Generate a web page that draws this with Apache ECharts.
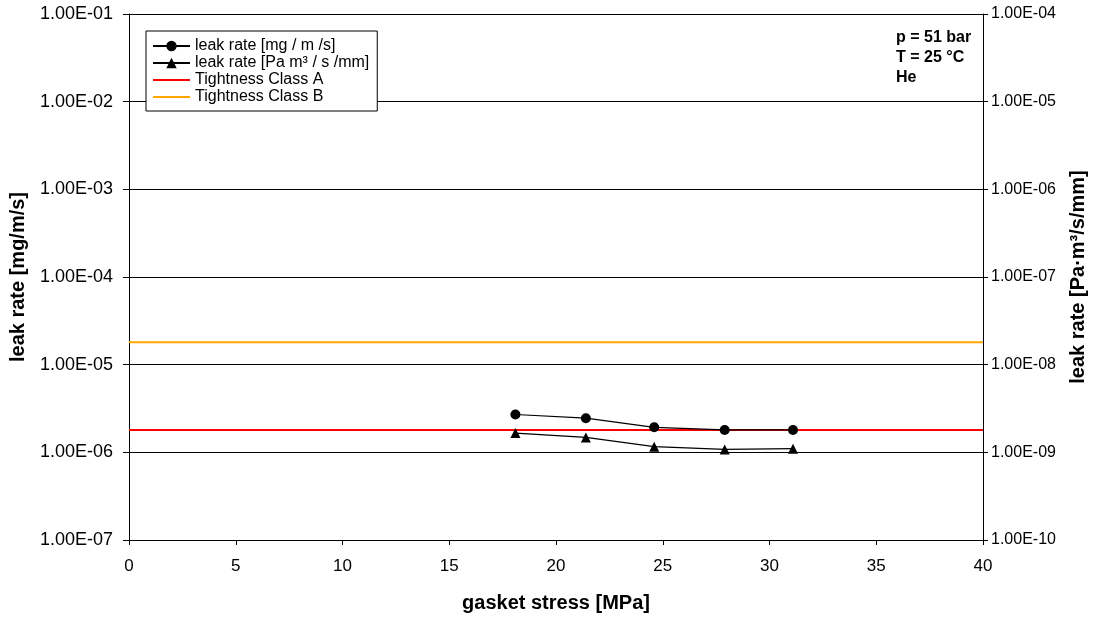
<!DOCTYPE html>
<html>
<head>
<meta charset="utf-8">
<script src="https://cdn.jsdelivr.net/npm/echarts@6/dist/echarts.min.js"></script>
<style>html,body{margin:0;padding:0;background:#fff}#c{width:1096px;height:618px}</style>
</head>
<body>
<div id="c"></div>
<script>
const stress = [18.1, 21.4, 24.6, 27.9, 31.1];
const leakMg = [2.7e-6, 2.45e-6, 1.93e-6, 1.8e-6, 1.8e-6];
const leakPa = [1.66e-9, 1.48e-9, 1.16e-9, 1.08e-9, 1.1e-9];
const classA = 1.8e-6;
const classB = 1.8e-5;
const xRange = [0, 40];
const seriesNames = ['leak rate [mg / m /s]', 'leak rate [Pa m³ / s /mm]', 'Tightness Class A', 'Tightness Class B'];
const infoLines = ['p = 51 bar', 'T = 25 °C', 'He'];

function fmt(v) {
  const e = Math.round(Math.log10(v));
  return '1.00E' + (e < 0 ? '-' : '+') + String(Math.abs(e)).padStart(2, '0');
}
const FONT = 'Liberation Sans, Arial, sans-serif';
const LINE_ICON = 'path://M0,0 M0,5.5 L37,5.5 L37,7.5 L0,7.5 Z M37,13';
const chart = echarts.init(document.getElementById('c'));
chart.setOption({
  animation: false,
  backgroundColor: '#fff',
  textStyle: { fontFamily: FONT, color: '#000' },
  grid: { left: 129, right: 112, top: 14, bottom: 78, containLabel: false },
  legend: {
    orient: 'vertical', left: 146, top: 31,
    backgroundColor: '#fff', borderColor: '#000', borderWidth: 1,
    padding: [7, 8, 6, 6], itemGap: 1, itemWidth: 37, itemHeight: 13,
    textStyle: { fontFamily: FONT, fontSize: 16, lineHeight: 16, color: '#000' },
    data: [
      { name: seriesNames[0] },
      { name: seriesNames[1] },
      { name: seriesNames[2], icon: LINE_ICON },
      { name: seriesNames[3], icon: LINE_ICON }
    ]
  },
  xAxis: {
    type: 'value', min: xRange[0], max: xRange[1], interval: 5,
    name: 'gasket stress [MPa]', nameLocation: 'middle', nameGap: 53,
    nameTextStyle: { fontFamily: FONT, fontSize: 20, fontWeight: 'bold', color: '#000' },
    axisLine: { lineStyle: { color: '#000', width: 1 } },
    axisTick: { show: true, inside: false, length: 5, lineStyle: { color: '#000' } },
    axisLabel: { fontFamily: FONT, fontSize: 17, color: '#000', margin: 18 },
    splitLine: { show: false }
  },
  yAxis: [{
    type: 'log', logBase: 10, min: 1e-7, max: 1e-1, interval: 1,
    name: 'leak rate [mg/m/s]', nameLocation: 'middle', nameGap: 101, nameRotate: 90,
    nameTextStyle: { fontFamily: FONT, fontSize: 20, fontWeight: 'bold', color: '#000' },
    axisLine: { show: true, lineStyle: { color: '#000', width: 1 } },
    axisTick: { show: true, length: 6, lineStyle: { color: '#000' } },
    axisLabel: { fontFamily: FONT, fontSize: 18, color: '#000', margin: 16, formatter: fmt },
    splitLine: { show: true, lineStyle: { color: '#000', width: 1 } }
  }, {
    type: 'log', logBase: 10, min: 1e-10, max: 1e-4, interval: 1, position: 'right',
    name: 'leak rate [Pa·m³/s/mm]', nameLocation: 'middle', nameGap: 85, nameRotate: 90,
    nameTextStyle: { fontFamily: FONT, fontSize: 20, fontWeight: 'bold', color: '#000' },
    axisLine: { show: true, lineStyle: { color: '#000', width: 1 } },
    axisTick: { show: true, length: 5, lineStyle: { color: '#000' } },
    axisLabel: { fontFamily: FONT, fontSize: 16, color: '#000', margin: 8, formatter: fmt },
    splitLine: { show: false }
  }],
  graphic: infoLines.map((t, i) => ({
    type: 'text', left: 896, top: 30 + i * 20,
    style: { text: t, font: 'bold 16px ' + FONT, fill: '#000' }
  })),
  series: [{
    name: seriesNames[0], type: 'line', yAxisIndex: 0,
    data: stress.map((x, i) => [x, leakMg[i]]),
    symbol: 'circle', symbolSize: 10,
    itemStyle: { color: '#000' }, lineStyle: { color: '#000', width: 1.2 }, z: 5
  }, {
    name: seriesNames[1], type: 'line', yAxisIndex: 1,
    data: stress.map((x, i) => [x, leakPa[i]]),
    symbol: 'triangle', symbolSize: 10,
    itemStyle: { color: '#000' }, lineStyle: { color: '#000', width: 1.2 }, z: 5
  }, {
    name: seriesNames[2], type: 'line', yAxisIndex: 0,
    data: [[xRange[0], classA], [xRange[1], classA]],
    symbol: 'none', itemStyle: { color: '#ff0000' }, lineStyle: { color: '#ff0000', width: 2 }, z: 4
  }, {
    name: seriesNames[3], type: 'line', yAxisIndex: 0,
    data: [[xRange[0], classB], [xRange[1], classB]],
    symbol: 'none', itemStyle: { color: '#ffa500' }, lineStyle: { color: '#ffa500', width: 2 }, z: 4
  }]
});
</script>
</body>
</html>
